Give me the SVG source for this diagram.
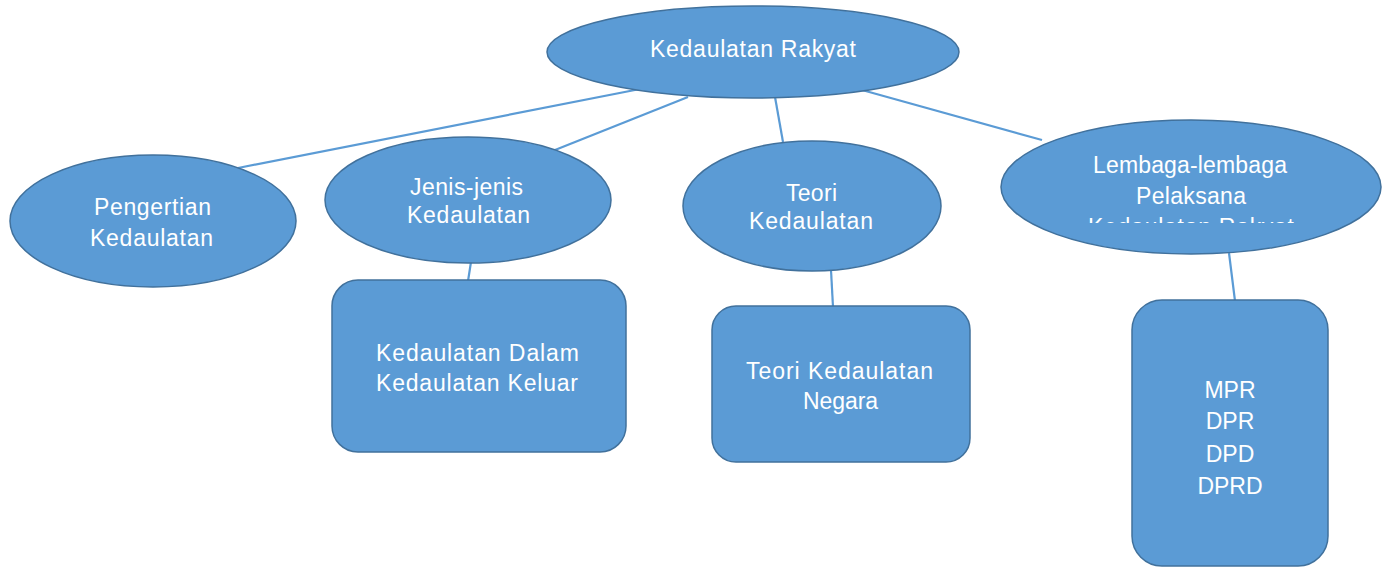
<svg xmlns="http://www.w3.org/2000/svg" width="1385" height="567" viewBox="0 0 1385 567">
<defs>
<style>
.n{fill:#5B9BD5;stroke:#41719C;stroke-width:1.5}
.c{stroke:#5B9BD5;stroke-width:2.2;fill:none}
.t{fill:#FFFFFF;font-family:"Liberation Sans",Arial,sans-serif;font-size:23px}
.m{text-anchor:middle}
</style>
<clipPath id="clipL"><rect x="990" y="100" width="395" height="123"/></clipPath>
</defs>
<rect width="1385" height="567" fill="#FFFFFF"/>
<g id="connectors">
<line class="c" x1="640" y1="89" x2="238" y2="168"/>
<line class="c" x1="688" y1="97" x2="555" y2="150"/>
<line class="c" x1="775" y1="97" x2="783" y2="142"/>
<line class="c" x1="862" y1="90" x2="1042" y2="140"/>
<line class="c" x1="471" y1="262" x2="468" y2="281"/>
<line class="c" x1="831" y1="270" x2="833" y2="307"/>
<line class="c" x1="1229" y1="253" x2="1235" y2="301"/>
</g>
<g id="root">
<ellipse class="n" cx="753" cy="52" rx="206" ry="46"/>
<text class="t" x="650" y="57" textLength="206" lengthAdjust="spacing">Kedaulatan Rakyat</text>
</g>
<g id="pengertian">
<ellipse class="n" cx="153" cy="221" rx="143" ry="66"/>
<text class="t" x="94" y="215" textLength="117" lengthAdjust="spacing">Pengertian</text>
<text class="t" x="90" y="246" textLength="123" lengthAdjust="spacing">Kedaulatan</text>
</g>
<g id="jenis">
<ellipse class="n" cx="468" cy="200" rx="143" ry="63"/>
<text class="t" x="410" y="195" textLength="113" lengthAdjust="spacing">Jenis-jenis</text>
<text class="t" x="407" y="223" textLength="123" lengthAdjust="spacing">Kedaulatan</text>
</g>
<g id="teori">
<ellipse class="n" cx="812" cy="206" rx="129" ry="65"/>
<text class="t" x="786" y="201" textLength="51" lengthAdjust="spacing">Teori</text>
<text class="t" x="749" y="229" textLength="124" lengthAdjust="spacing">Kedaulatan</text>
</g>
<g id="lembaga">
<ellipse class="n" cx="1191" cy="187" rx="190" ry="67"/>
<text class="t" x="1093" y="173" textLength="194" lengthAdjust="spacing">Lembaga-lembaga</text>
<text class="t" x="1136" y="204" textLength="110" lengthAdjust="spacing">Pelaksana</text>
<text class="t" x="1088" y="235" textLength="206" lengthAdjust="spacing" clip-path="url(#clipL)">Kedaulatan Rakyat</text>
</g>
<g id="jenis-box">
<rect class="n" x="332" y="280" width="294" height="172" rx="26"/>
<text class="t" x="376" y="361" textLength="203" lengthAdjust="spacing">Kedaulatan Dalam</text>
<text class="t" x="376" y="391" textLength="202" lengthAdjust="spacing">Kedaulatan Keluar</text>
</g>
<g id="teori-box">
<rect class="n" x="712" y="306" width="258" height="156" rx="24"/>
<text class="t" x="746" y="379" textLength="187" lengthAdjust="spacing">Teori Kedaulatan</text>
<text class="t" x="803" y="409" textLength="75" lengthAdjust="spacing">Negara</text>
</g>
<g id="lembaga-box">
<rect class="n" x="1132" y="300" width="196" height="266" rx="30"/>
<text class="t m" x="1230" y="398">MPR</text>
<text class="t m" x="1230" y="429">DPR</text>
<text class="t m" x="1230" y="462">DPD</text>
<text class="t m" x="1230" y="494">DPRD</text>
</g>
</svg>
